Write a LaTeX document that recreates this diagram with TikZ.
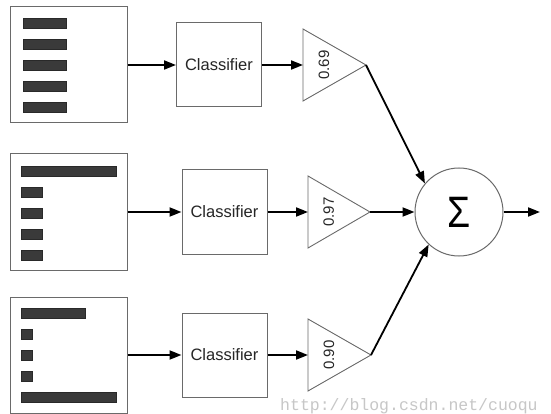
\documentclass[tikz,border=0pt]{standalone}
\usepackage{fontspec}
\setmainfont{Liberation Sans}
\newfontfamily\wmfont{Liberation Mono}
\usetikzlibrary{arrows.meta}
\definecolor{boxgray}{HTML}{6A6A6A}
\definecolor{bargray}{HTML}{3A3A3A}
\begin{document}
\begin{tikzpicture}[x=1pt,y=-1pt,
 panel/.style={draw=boxgray, line width=1pt, minimum width=117pt, minimum height=116pt, inner sep=0pt},
 clf/.style={draw=boxgray, line width=1pt, minimum width=85pt, minimum height=84pt, inner sep=0pt, font=\fontsize{16.5}{19}\selectfont, text=black!85},
 bar/.style={fill=bargray, draw=bargray!70!black, line width=0.5pt},
 tri/.style={draw=boxgray, line width=0.9pt, fill=white, line join=miter},
 conn/.style={line width=1.8pt, -{Triangle[length=12pt,width=9pt]}},
 plainline/.style={line width=1.8pt, line cap=round},
 gain/.style={rotate=90, font=\fontsize{15}{18}\selectfont, inner sep=0pt, text=black!85},
]
\useasboundingbox (0,0) rectangle (551,414);
\fill[white] (0,0) rectangle (551,414);

% panels
\node[panel] (b1) at (68.5,65) {};
\node[panel] (b2) at (68.5,212) {};
\node[panel] (b3) at (68.5,355) {};

% bars panel 1
\foreach \y in {23,44,65,86,107}
  \draw[bar] (23,\y-5) rectangle (66,\y+5);
% bars panel 2
\draw[bar] (21,166) rectangle (116,176);
\foreach \y in {192,213,234,255}
  \draw[bar] (21,\y-5) rectangle (42,\y+5);
% bars panel 3
\draw[bar] (21,308) rectangle (85,318);
\foreach \y in {334,355,376}
  \draw[bar] (21,\y-5) rectangle (32,\y+5);
\draw[bar] (21,392) rectangle (116,402);

% classifiers
\node[clf] (c1) at (219,65) {Classifier};
\node[clf] (c2) at (224.5,212) {Classifier};
\node[clf] (c3) at (224.5,355) {Classifier};

% triangles
\draw[tri] (303,29) -- (303,101) -- (366,65) -- cycle;
\coordinate (t1w) at (303,65); \coordinate (t1e) at (366,65);
\node[gain] (g1) at (324,65) {0.69};
\draw[tri] (308,176) -- (308,248) -- (370,212) -- cycle;
\coordinate (t2w) at (308,212); \coordinate (t2e) at (370,212);
\node[gain] (g2) at (328.7,212) {0.97};
\draw[tri] (308,319) -- (308,391) -- (371,355) -- cycle;
\coordinate (t3w) at (308,355); \coordinate (t3e) at (371,355);
\node[gain] (g3) at (329,355) {0.90};

% sum
\node[circle, draw=boxgray, line width=1pt, minimum size=88pt, inner sep=0pt] (s) at (459,212) {};
\node[font=\fontsize{44}{48}\selectfont, xscale=0.85, inner sep=0pt] (sig) at (459,212) {Σ};
\coordinate (out) at (540,212);

% connectors
\draw[conn] (b1.east) -- (c1.west);
\draw[conn] (b2.east) -- (c2.west);
\draw[conn] (b3.east) -- (c3.west);
\draw[conn] (c1.east) -- (t1w);
\draw[conn] (c2.east) -- (t2w);
\draw[conn] (c3.east) -- (t3w);
\draw[conn] (t1e) -- (s.140);
\draw[conn] (t2e) -- (s.west);
\draw[conn] (t3e) -- (s.227);
\draw[conn] (s.east) -- (out);

% watermark
\node[anchor=base west, text=black!22, font=\wmfont\fontsize{16.5}{18}\selectfont, inner sep=0pt] (wm) at (280,410) {http://blog.csdn.net/cuoqu};
\end{tikzpicture}
\end{document}
